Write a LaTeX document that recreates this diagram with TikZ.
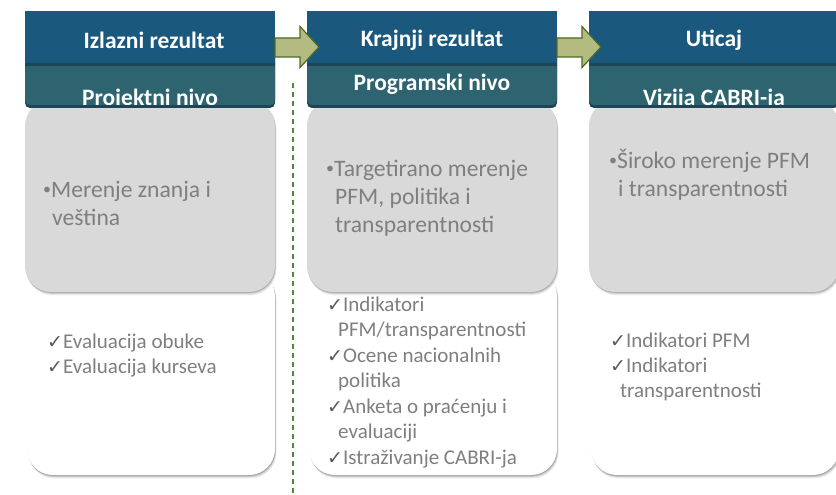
\documentclass[tikz,border=0pt]{standalone}
\usepackage{fontspec}
\setmainfont{Carlito}
\newfontfamily\symfont{DejaVu Sans}
\definecolor{hdrblue}{HTML}{1B587D}
\definecolor{hdrteal}{HTML}{2D6470}
\definecolor{hdrdark}{HTML}{1E4555}
\definecolor{boxgrey}{HTML}{D9D9D9}
\definecolor{txtgrey}{HTML}{7F7F7F}
\definecolor{chkgrey}{HTML}{595959}
\definecolor{arrfill}{HTML}{B3BB80}
\definecolor{arrline}{HTML}{4B6A24}
\definecolor{dashgreen}{HTML}{4E8A3A}
\newcommand{\chk}{{\symfont\fontsize{19}{19}\selectfont\color{chkgrey}✓}}
\newcommand{\bul}{{\fontsize{16}{16}\selectfont\raisebox{2.5pt}{•}}}
\tikzset{
  hdrtext/.style={text=white, font=\bfseries\fontsize{23.5}{28}\selectfont, inner sep=0pt},
  greytext/.style={text=txtgrey, font=\fontsize{23.6}{28.5}\selectfont, inner sep=0pt, anchor=base west},
  whitetext/.style={text=txtgrey, font=\fontsize{21}{25.5}\selectfont, inner sep=0pt, anchor=base west},
  blockarrow/.style={fill=arrfill, draw=arrline, line width=1.2pt, line join=miter},
}
\begin{document}
\begin{tikzpicture}[x=1pt,y=-1pt]
\useasboundingbox (0,0) rectangle (836,495);
\fill[white] (0,0) rectangle (836,495);

% dashed separator
\coordinate (dtop) at (293,83);
\coordinate (dbot) at (293,495);
\draw[dashgreen, line width=1.4pt, dash pattern=on 5pt off 4pt] (dtop) -- (dbot);

% columns
\foreach \L in {25,307,589}{
  % white box with soft shadow
  \foreach \i/\o in {1/0.16,2/0.12,3/0.08,4/0.05}{
    \fill[black, opacity=\o, rounded corners=26pt] (\L+2+\i*0.4,270+\i*0.9) rectangle (\L+250+\i*0.4,475+\i*0.9);
  }
  \fill[white, rounded corners=26pt] (\L+2,270) rectangle (\L+250,475);
  % grey box with soft shadow
  \foreach \i/\o in {1/0.14,2/0.10,3/0.07,4/0.04}{
    \fill[black, opacity=\o, rounded corners=26pt] (\L+\i*0.4,100+\i*0.9) rectangle (\L+250+\i*0.4,292+\i*0.9);
  }
  \fill[boxgrey, rounded corners=26pt] (\L,100) rectangle (\L+250,292);
  % header
  \fill[hdrdark, rounded corners=5pt] (\L,40) rectangle (\L+250,108);
  \fill[hdrteal, rounded corners=5pt] (\L,40) rectangle (\L+250,105);
  \fill[hdrdark] (\L,11) rectangle (\L+250,66);
  \fill[hdrblue] (\L,11) rectangle (\L+250,63);
}

% header texts
\node[hdrtext] (h1) at (154,40) {Izlazni rezultat};
\node[hdrtext] (h2) at (432,40) {Krajnji rezultat};
\node[hdrtext] (h3) at (714,40) {Uticaj};

\begin{scope}
\clip (0,66) rectangle (836,105);
\node[hdrtext, anchor=base] (s1) at (150,106) {Projektni nivo};
\node[hdrtext, anchor=base] (s2) at (432,91) {Programski nivo};
\node[hdrtext, anchor=base] (s3) at (714,106) {Vizija CABRI-ja};
\end{scope}

% arrows
\coordinate (a1s) at (275,47);
\coordinate (a2s) at (557,47);
\draw[blockarrow] (275,38) -- (300,38) -- (300,26.5) -- (319,47) -- (300,67.5) -- (300,57) -- (275,57) -- cycle;
\draw[blockarrow] (557,38) -- (582,38) -- (582,26.5) -- (601,47) -- (582,67.5) -- (582,57) -- (557,57) -- cycle;

% grey box texts
\node[greytext] (g1a) at (43,197) {\bul Merenje znanja i};
\node[greytext] (g1b) at (52,225) {veština};
\node[greytext] (g2a) at (326,176) {\bul Targetirano merenje};
\node[greytext] (g2b) at (335,204.5) {PFM, politika i};
\node[greytext] (g2c) at (335,232.5) {transparentnosti};
\node[greytext] (g3a) at (609,168) {\bul Široko merenje PFM};
\node[greytext] (g3b) at (618,196) {i transparentnosti};

% white box texts
\node[whitetext] (w1a) at (47,348) {\chk Evaluacija obuke};
\node[whitetext] (w1b) at (47,373) {\chk Evaluacija kurseva};

\node[whitetext] (w2a) at (327,311) {\chk Indikatori};
\node[whitetext] (w2b) at (338,336.5) {PFM/transparentnosti};
\node[whitetext] (w2c) at (327,362) {\chk Ocene nacionalnih};
\node[whitetext] (w2d) at (338,387.5) {politika};
\node[whitetext] (w2e) at (327,413) {\chk Anketa o praćenju i};
\node[whitetext] (w2f) at (338,438.5) {evaluaciji};
\node[whitetext] (w2g) at (327,464) {\chk Istraživanje CABRI-ja};

\node[whitetext] (w3a) at (610,347) {\chk Indikatori PFM};
\node[whitetext] (w3b) at (610,372) {\chk Indikatori};
\node[whitetext] (w3c) at (620,397) {transparentnosti};
\end{tikzpicture}
\end{document}
